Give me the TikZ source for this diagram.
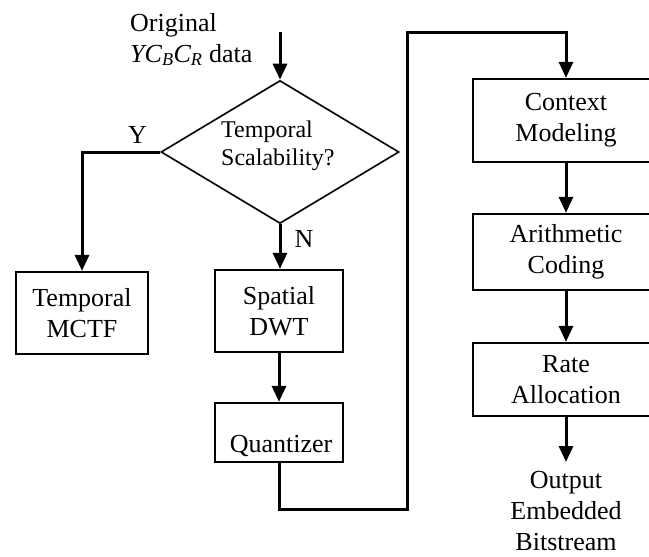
\documentclass[tikz,border=0pt]{standalone}
\usepackage{fontspec}
\setmainfont{Liberation Serif}
\usetikzlibrary{arrows.meta,shapes.geometric}
\begin{document}
\begin{tikzpicture}[x=1pt,y=-1pt,
  block/.style={draw,line width=2.3pt,inner sep=0pt,align=center,
    font=\fontsize{26}{31}\selectfont},
  flow/.style={line width=3pt,-{Triangle[length=16pt,width=14pt]}},
  txt/.style={inner sep=0pt,font=\fontsize{26}{31}\selectfont},
  dtxt/.style={inner sep=0pt,align=left,font=\fontsize{24}{28}\selectfont}]
\useasboundingbox (0,0) rectangle (649,557);
\clip (0,0) rectangle (649,557);

% input label and decision (base anchors sit on the last line)
\node[txt,align=left,anchor=base west] (input) at (130,62)
  {Original\\{\itshape YC\textsubscript{B}C\textsubscript{R}} data};
\coordinate (start) at (280,32);
\node[draw,diamond,line width=1.6pt,inner sep=0pt,
  minimum width=238pt,minimum height=143pt] (dec) at (280,152) {};
\node[dtxt,anchor=base west] (dectext) at (221,165) {Temporal\\Scalability?};
\node[txt,anchor=base] (ylab) at (137.5,143) {Y};
\node[txt,anchor=base] (nlab) at (304,247) {N};

% left column blocks
\node[block,minimum width=132pt,minimum height=82pt] (temporal) at (82,313)
  {Temporal\\MCTF};
\node[block,minimum width=128pt,minimum height=82pt] (spatial) at (279,311)
  {Spatial\\DWT};
\node[block,minimum width=128pt,minimum height=59pt] (quant) at (279,432.5) {};
\node[txt,anchor=base] (quanttext) at (281,452) {Quantizer};

% right column blocks (run past the right edge)
\node[block,minimum width=186pt,minimum height=83pt] (context) at (566,120.5)
  {Context\\Modeling};
\node[block,minimum width=186pt,minimum height=76pt] (arith) at (566,252)
  {Arithmetic\\Coding};
\node[block,minimum width=186pt,minimum height=73pt] (rate) at (566,379.5)
  {Rate\\Allocation};
\node[txt,align=center,anchor=base] (output) at (566,550)
  {Output\\Embedded\\Bitstream};
\coordinate (outtip) at (566,462);

% connectors
\coordinate (c1) at (407,509);
\coordinate (c2) at (407,32);
\draw[flow] (start) -- (dec.north);
\draw[flow] (dec.west) -| (temporal.north);
\draw[flow] (dec.south) -- (dec.south |- spatial.north);
\draw[flow] (spatial.south) -- (quant.north);
\draw[flow] (quant.south) |- (c1) -- (c2) -| (context.north);
\draw[flow] (context.south) -- (arith.north);
\draw[flow] (arith.south) -- (rate.north);
\draw[flow] (rate.south) -- (outtip);
\end{tikzpicture}
\end{document}
